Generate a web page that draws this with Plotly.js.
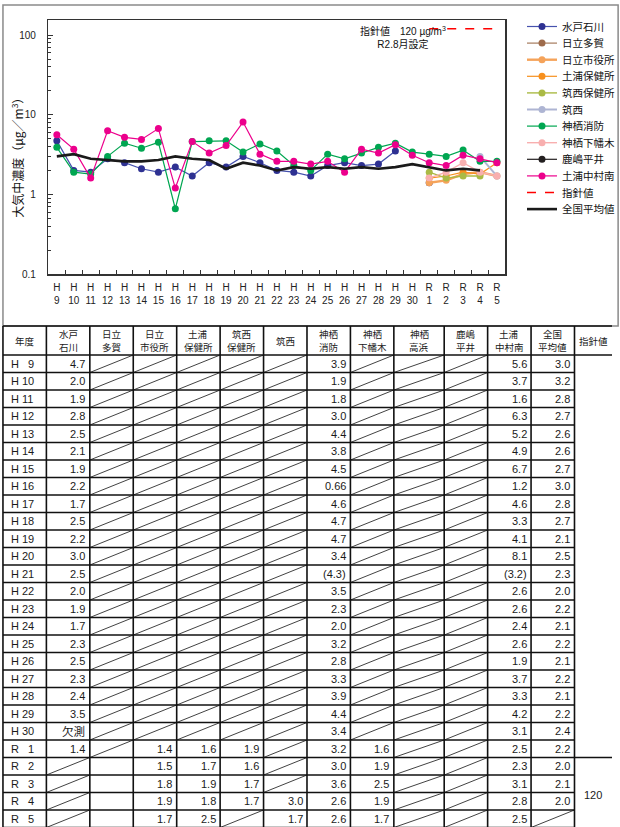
<!DOCTYPE html>
<html>
<head>
<meta charset="utf-8">
<script src="https://cdn.plot.ly/plotly-3.0.1.min.js"></script>
<style>
  html, body { margin: 0; padding: 0; background: #fff; }
  #chart { width: 620px; height: 827px; }
</style>
</head>
<body>
<div id="chart"></div>
<script>
// Fiscal years: Heisei 9 – Heisei 30, Reiwa 1 – Reiwa 5
const fiscalYears = ['H9','H10','H11','H12','H13','H14','H15','H16','H17','H18','H19','H20','H21','H22',
  'H23','H24','H25','H26','H27','H28','H29','H30','R1','R2','R3','R4','R5'];

// Annual mean concentration per station (µg/m³); null = no measurement that year
const mitoIshikawa = [4.7,2.0,1.9,2.8,2.5,2.1,1.9,2.2,1.7,2.5,2.2,3.0,2.5,2.0,1.9,1.7,2.3,2.5,2.3,2.4,3.5,null,1.4,null,null,null,null];
const hitachiTaga = [null,null,null,null,null,null,null,null,null,null,null,null,null,null,null,null,null,null,null,null,null,null,null,null,null,null,null];
const hitachiCityHall = [null,null,null,null,null,null,null,null,null,null,null,null,null,null,null,null,null,null,null,null,null,null,1.4,1.5,1.8,1.9,1.7];
const tsuchiuraHealthCenter = [null,null,null,null,null,null,null,null,null,null,null,null,null,null,null,null,null,null,null,null,null,null,1.6,1.7,1.9,1.8,2.5];
const chikuseiHealthCenter = [null,null,null,null,null,null,null,null,null,null,null,null,null,null,null,null,null,null,null,null,null,null,1.9,1.6,1.7,1.7,null];
const chikusei = [null,null,null,null,null,null,null,null,null,null,null,null,null,null,null,null,null,null,null,null,null,null,null,null,null,3.0,1.7];
const kamisuFireDept = [3.9,1.9,1.8,3.0,4.4,3.8,4.5,0.66,4.6,4.7,4.7,3.4,4.3,3.5,2.3,2.0,3.2,2.8,3.3,3.9,4.4,3.4,3.2,3.0,3.6,2.6,2.6];
const kamisuShimohataki = [null,null,null,null,null,null,null,null,null,null,null,null,null,null,null,null,null,null,null,null,null,null,1.6,1.9,2.5,1.9,1.7];
const kamisuTakahama = [null,null,null,null,null,null,null,null,null,null,null,null,null,null,null,null,null,null,null,null,null,null,null,null,null,null,null];
const kashimaHirai = [null,null,null,null,null,null,null,null,null,null,null,null,null,null,null,null,null,null,null,null,null,null,null,null,null,null,null];
const tsuchiuraNakamuraminami = [5.6,3.7,1.6,6.3,5.2,4.9,6.7,1.2,4.6,3.3,4.1,8.1,3.2,2.6,2.6,2.4,2.6,1.9,3.7,3.3,4.2,3.1,2.5,2.3,3.1,2.8,2.5];
const nationalAverage = [3.0,3.2,2.8,2.7,2.6,2.6,2.7,3.0,2.8,2.7,2.1,2.5,2.3,2.0,2.2,2.1,2.2,2.1,2.2,2.1,2.2,2.4,2.2,2.0,2.1,2.0,null];

// Guideline value (set August R2)
const guidelineValue = 120;
const guidelineYears = ['R1','R2','R3','R4','R5'];
const guidelineTableFrom = 'R2';

// Table cell notes
const provisionalCells = [{ station: '神栖消防', year: 'H21' }, { station: '土浦中村南', year: 'H21' }];
const notMeasuredCells = [{ station: '水戸石川', year: 'H30', text: '欠測' }];
const blankCells = [{ station: '日立多賀', years: ['R2','R3','R4','R5'] }];

// ---- styling ----
const JP = 'Noto Sans CJK JP';
const NUM = 'Liberation Sans, Noto Sans CJK JP';
const W = 620, H = 827;

const stations = [
  { head: ['水戸','石川'],   values: mitoIshikawa,            marker: '#2E3192', line: '#4652AE', width: 1.2, legend: true },
  { head: ['日立','多賀'],   values: hitachiTaga,             marker: '#9E6B4B', line: '#A57A5C', width: 1.2, legend: true },
  { head: ['日立','市役所'], values: hitachiCityHall,         marker: '#F5A35A', line: '#F5A35A', width: 2.4, legend: true },
  { head: ['土浦','保健所'], values: tsuchiuraHealthCenter,   marker: '#F7901E', line: '#F7901E', width: 1.2, legend: true },
  { head: ['筑西','保健所'], values: chikuseiHealthCenter,    marker: '#AABA45', line: '#AABA45', width: 1.4, legend: true },
  { head: ['筑西'],          values: chikusei,                marker: '#AEB5D3', line: '#AEB5D3', width: 2.0, legend: true },
  { head: ['神栖','消防'],   values: kamisuFireDept,          marker: '#00A651', line: '#00A651', width: 1.2, legend: true },
  { head: ['神栖','下幡木'], values: kamisuShimohataki,       marker: '#F8AFAF', line: '#F8AFAF', width: 1.4, legend: true },
  { head: ['神栖','高浜'],   values: kamisuTakahama,          marker: '#888888', line: '#888888', width: 1.2, legend: false },
  { head: ['鹿嶋','平井'],   values: kashimaHirai,            marker: '#231F20', line: '#231F20', width: 1.2, legend: true },
  { head: ['土浦','中村南'], values: tsuchiuraNakamuraminami, marker: '#EC008C', line: '#EC008C', width: 1.2, legend: true }
];

const traces = [];
stations.filter(s => s.legend).forEach(s => {
  traces.push({
    type: 'scatter', mode: 'lines+markers',
    x: fiscalYears, y: s.values, name: s.head.join(''),
    line: { color: s.line, width: s.width },
    marker: { color: s.marker, size: 7 },
    connectgaps: false,
    xaxis: 'x', yaxis: 'y'
  });
});
traces.push({
  type: 'scatter', mode: 'lines', name: '指針値',
  x: guidelineYears, y: guidelineYears.map(() => guidelineValue),
  line: { color: '#FF0000', width: 1.6, dash: 'dash' },
  xaxis: 'x', yaxis: 'y'
});
traces.push({
  type: 'scatter', mode: 'lines', name: '全国平均値',
  x: fiscalYears, y: nationalAverage,
  line: { color: '#1A1A1A', width: 2.6 },
  connectgaps: false,
  xaxis: 'x', yaxis: 'y'
});

// ---- table geometry (pixels) ----
const colEdges = [3, 47, 91, 135, 179, 223, 267, 311, 355, 399, 450, 494, 538, 582, 620];
const TABLE_TOP = 326, HEADER_H = 29, ROW_H = 17.5, HEAD_LINE = 13.5;
const headerUnits = HEADER_H / ROW_H;
const nRows = fiscalYears.length;

const tableColumns = stations.map(s => ({ head: s.head, name: s.head.join(''), values: s.values }))
  .concat([{ head: ['全国','平均値'], name: '全国平均値', values: nationalAverage }]);

const shapes = [];
const annotations = [];
const gridLine = (x0, y0, x1, y1, w) => shapes.push({
  type: 'line', xref: 'x2', yref: 'y2', x0, y0, x1, y1,
  line: { color: '#111', width: w }
});

// chart frame
shapes.push({
  type: 'rect', xref: 'paper', yref: 'paper',
  x0: 3 / W, x1: 1.01, y0: 1 - TABLE_TOP / H, y1: 1 - 5 / H,
  line: { color: '#8A8A8A', width: 1.5 }, fillcolor: 'rgba(0,0,0,0)', layer: 'below'
});

// table grid
const lastDataEdge = colEdges[colEdges.length - 2];
const guideRow = fiscalYears.indexOf(guidelineTableFrom);
gridLine(colEdges[0], -headerUnits, W, -headerUnits, 1.7);
for (let i = 0; i <= nRows; i++) {
  const right = (i === 0 || i === guideRow) ? W : lastDataEdge;
  gridLine(colEdges[0], i, right, i, 1.6);
}
colEdges.slice(0, -1).forEach(x => gridLine(x, -headerUnits, x, nRows, 1.6));

// header texts, one annotation per line
const headers = [['年度']].concat(tableColumns.map(c => c.head)).concat([['指針値']]);
headers.forEach((h, c) => {
  h.forEach((part, k) => {
    const offset = (k - (h.length - 1) / 2) * HEAD_LINE / ROW_H;
    annotations.push({
      xref: 'x2', yref: 'y2', x: (colEdges[c] + colEdges[c + 1]) / 2, y: -headerUnits / 2 + offset,
      text: part, showarrow: false, xanchor: 'center', yanchor: 'middle', borderpad: 0,
      font: { family: JP, size: 9.5, color: '#1a1a1a' }
    });
  });
});

const fmt = v => Math.abs(v * 10 - Math.round(v * 10)) < 1e-9 ? v.toFixed(1) : String(v);
const yearLabel = fy => fy[0] + ' ' + (fy.length === 2 ? '\u2007' : '') + fy.slice(1);

fiscalYears.forEach((fy, i) => {
  annotations.push({
    xref: 'x2', yref: 'y2', x: colEdges[0] + 6, y: i + 0.5, text: yearLabel(fy),
    showarrow: false, xanchor: 'left', yanchor: 'middle',
    font: { family: NUM, size: 11, color: '#1a1a1a' }
  });
  tableColumns.forEach((col, c) => {
    const x0 = colEdges[c + 1], x1 = colEdges[c + 2];
    const v = col.values[i];
    const note = notMeasuredCells.find(n => n.station === col.name && n.year === fy);
    const blank = blankCells.some(b => b.station === col.name && b.years.includes(fy));
    const provisional = provisionalCells.some(p => p.station === col.name && p.year === fy);
    if (v !== null) {
      annotations.push({
        xref: 'x2', yref: 'y2', x: x1 - 2.5, y: i + 0.5,
        text: provisional ? '(' + fmt(v) + ')' : fmt(v),
        showarrow: false, xanchor: 'right', yanchor: 'middle',
        font: { family: NUM, size: 11, color: '#1a1a1a' }
      });
    } else if (note) {
      annotations.push({
        xref: 'x2', yref: 'y2', x: x1 - 3, y: i + 0.5, text: note.text,
        showarrow: false, xanchor: 'right', yanchor: 'middle',
        font: { family: JP, size: 11.5, color: '#1a1a1a' }
      });
    } else if (!blank) {
      shapes.push({
        type: 'line', xref: 'x2', yref: 'y2', x0: x0, y0: i + 1, x1: x1, y1: i,
        line: { color: '#111', width: 0.8 }
      });
    }
  });
});

// guideline value cell (merged rows from the year it was set)
annotations.push({
  xref: 'x2', yref: 'y2', x: (colEdges[colEdges.length - 2] + colEdges[colEdges.length - 1]) / 2,
  y: (guideRow + nRows) / 2 + 0.15, text: String(guidelineValue),
  showarrow: false, xanchor: 'center', yanchor: 'middle',
  font: { family: NUM, size: 11, color: '#1a1a1a' }
});

// chart texts
annotations.push({
  xref: 'paper', yref: 'paper', x: 17 / W, y: 1 - 155 / H, textangle: -90,
  text: '大気中濃度（µg／m<sup>3</sup>）', showarrow: false,
  xanchor: 'center', yanchor: 'middle',
  font: { family: JP, size: 12, color: '#111' }
});
annotations.push({
  xref: 'paper', yref: 'paper', x: 408 / W, y: 1 - 37.5 / H,
  text: '指針値　120 µg/m<sup>3</sup><br>R2.8月設定', align: 'center', showarrow: false,
  xanchor: 'center', yanchor: 'middle',
  font: { family: NUM, size: 10, color: '#111' }
});

const layout = {
  width: W, height: H,
  margin: { l: 0, r: 0, t: 0, b: 0 },
  paper_bgcolor: '#fff', plot_bgcolor: '#fff',
  showlegend: true,
  legend: {
    x: 529 / W, y: 1 - 12 / H, xanchor: 'left', yanchor: 'top',
    font: { family: JP, size: 10.5, color: '#111' },
    bgcolor: 'rgba(0,0,0,0)', traceorder: 'normal', itemwidth: 30
  },
  xaxis: {
    domain: [49 / W, 512 / W], anchor: 'y', type: 'category',
    categoryorder: 'array', categoryarray: fiscalYears, range: [-0.5, fiscalYears.length - 0.5],
    tickmode: 'array', tickvals: fiscalYears,
    ticktext: fiscalYears.map(f => f[0] + '<br>' + f.slice(1)),
    tickangle: 0, ticklabelstandoff: 3,
    ticks: 'inside', tickson: 'boundaries', ticklen: 4, tickcolor: '#333',
    showline: true, linecolor: '#333', linewidth: 1.5, mirror: true,
    showgrid: false, zeroline: false,
    tickfont: { family: NUM, size: 10, color: '#222' }, fixedrange: true
  },
  yaxis: {
    domain: [1 - 274 / H, 1 - 20 / H], anchor: 'x', type: 'log',
    range: [-1, 2.19],
    tickmode: 'array', tickvals: [0.1, 1, 10, 100], ticktext: ['0.1', '1', '10', '100'],
    ticks: 'inside', ticklen: 5, tickcolor: '#333', ticklabelstandoff: 9,
    minor: { ticks: 'inside', ticklen: 3, tickcolor: '#333', dtick: 'D1', showgrid: false },
    showline: true, linecolor: '#333', linewidth: 1.5, mirror: true,
    showgrid: false, zeroline: false,
    tickfont: { family: NUM, size: 10, color: '#222' }, fixedrange: true
  },
  xaxis2: { domain: [0, 1], anchor: 'y2', range: [0, W], visible: false, fixedrange: true },
  yaxis2: {
    domain: [0, (H - TABLE_TOP + 2) / H], anchor: 'x2',
    range: [(H - TABLE_TOP - HEADER_H) / ROW_H, -headerUnits - 2 / ROW_H],
    visible: false, fixedrange: true
  },
  shapes, annotations
};

const LEGEND_STEP = 16.6;
Plotly.newPlot('chart', traces, layout, { staticPlot: true, displayModeBar: false }).then(gd => {
  // tighten legend rows to a compact spacing
  let firstY = null;
  gd.querySelectorAll('.legend .traces').forEach((el, i) => {
    const m = /translate\(\s*([-\d.]+)[ ,]+([-\d.]+)\s*\)/.exec(el.getAttribute('transform') || '');
    if (!m) return;
    if (firstY === null) firstY = parseFloat(m[2]);
    el.setAttribute('transform', 'translate(' + m[1] + ',' + (firstY + i * LEGEND_STEP) + ')');
  });
});
</script>
</body>
</html>
